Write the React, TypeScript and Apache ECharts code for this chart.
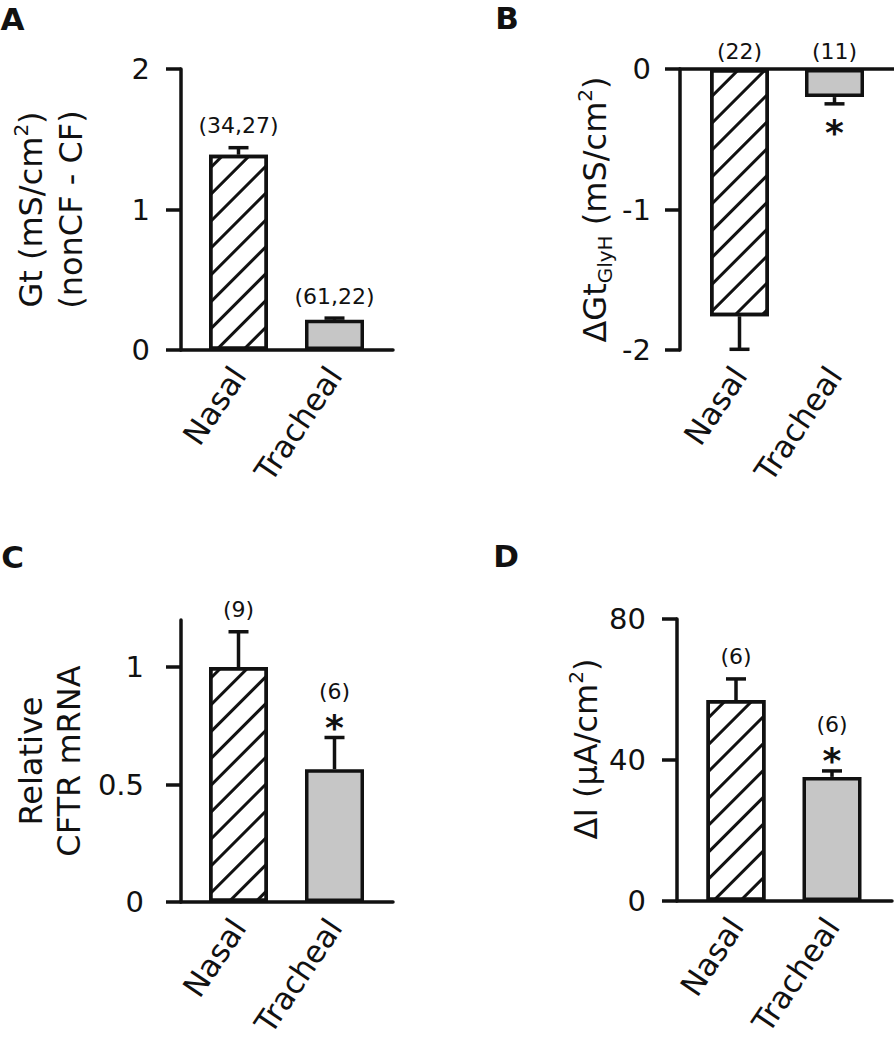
import React, { useEffect, useRef } from "react";
import * as echarts from "echarts";

// ---------- data ----------
const categories = ["Nasal", "Tracheal"];

// Panel A: Gt (nonCF - CF)
const gtMean = [1.39, 0.215];
const gtErr = [0.05, 0.012];
const gtN = ["(34,27)", "(61,22)"];
const gtSig = [false, false];
const gtTicks = [0, 1, 2];

// Panel B: ΔGt GlyH
const glyMean = [-1.76, -0.2];
const glyErr = [0.235, 0.048];
const glyN = ["(22)", "(11)"];
const glySig = [false, true];
const glyTicks = [-2, -1, 0];

// Panel C: relative CFTR mRNA
const mrnaMean = [1.0, 0.565];
const mrnaErr = [0.15, 0.135];
const mrnaN = ["(9)", "(6)"];
const mrnaSig = [false, true];
const mrnaTicks = [0, 0.5, 1];

// Panel D: ΔI
const diMean = [57, 35.2];
const diErr = [6, 1.7];
const diN = ["(6)", "(6)"];
const diSig = [false, true];
const diTicks = [0, 40, 80];

// ---------- styling ----------
const FONT = '"DejaVu Sans", sans-serif';
const INK = "#111111";
const GRAY = "#c6c6c6";
const LW = 3.5;

const richStyles = (lh: number) => ({
  t: { fontSize: 32, fontFamily: FONT, color: INK, lineHeight: lh },
  sup: { fontSize: 20, fontFamily: FONT, color: INK, lineHeight: 20, verticalAlign: "top" },
  sub: { fontSize: 20, fontFamily: FONT, color: INK, lineHeight: 20, verticalAlign: "bottom" },
});

type Panel = {
  letter: string;
  lx: number;
  ly: number;
  axisLeft: number;
  axisWidth: number;
  top: number;
  height: number;
  barLeft: number;
  barWidth: number;
  min: number;
  max: number;
  ticks: number[];
  mean: number[];
  err: number[];
  n: string[];
  sig: boolean[];
  name: string;
  nameGap: number;
  nameLH: number;
  namePad?: number[];
  labelMargin: number;
  xTop: boolean;
};

const panels: Panel[] = [
  {
    letter: "A", lx: 12.5, ly: 18.5,
    axisLeft: 181, axisWidth: 212, top: 69, height: 281,
    barLeft: 190.5, barWidth: 192,
    min: 0, max: 2, ticks: gtTicks,
    mean: gtMean, err: gtErr, n: gtN, sig: gtSig,
    name: "{t|Gt (mS/cm}{sup|2}{t|)}\n{t|(nonCF - CF)}", nameGap: 90, nameLH: 40,
    labelMargin: 31, xTop: false,
  },
  {
    letter: "B", lx: 507, ly: 18,
    axisLeft: 680, axisWidth: 214, top: 69, height: 281,
    barLeft: 692, barWidth: 190,
    min: -2, max: 0, ticks: glyTicks,
    mean: glyMean, err: glyErr, n: glyN, sig: glySig,
    name: "{t|ΔGt}{sub|GlyH}{t| (mS/cm}{sup|2}{t|)}", nameGap: 65, nameLH: 40,
    labelMargin: 29, xTop: true,
  },
  {
    letter: "C", lx: 12.5, ly: 556.5,
    axisLeft: 181, axisWidth: 212, top: 620, height: 282,
    barLeft: 190.5, barWidth: 192,
    min: 0, max: 1.2, ticks: mrnaTicks,
    mean: mrnaMean, err: mrnaErr, n: mrnaN, sig: mrnaSig,
    name: "{t|Relative}\n{t|CFTR mRNA}", nameGap: 93, nameLH: 38,
    labelMargin: 37, xTop: false,
  },
  {
    letter: "D", lx: 506, ly: 556,
    axisLeft: 677, axisWidth: 215, top: 619, height: 282,
    barLeft: 688, barWidth: 192,
    min: 0, max: 80, ticks: diTicks,
    mean: diMean, err: diErr, n: diN, sig: diSig,
    name: "{t|ΔI (μA/cm}{sup|2}{t|)}", nameGap: 71, nameLH: 40, namePad: [0, 0, 0, 22],
    labelMargin: 31, xTop: false,
  },
];

const hatchStyle = {
  color: "#ffffff",
  borderColor: INK,
  borderWidth: LW,
  decal: {
    symbol: "rect",
    symbolSize: 1,
    symbolKeepAspect: false,
    dashArrayX: [[20, 0]],
    dashArrayY: [3, 16],
    rotation: -Math.PI / 4,
    color: INK,
    backgroundColor: null,
  },
};
const grayStyle = { color: GRAY, borderColor: INK, borderWidth: LW };

function buildOption() {
  const grid: any[] = [];
  const xAxis: any[] = [];
  const yAxis: any[] = [];
  const series: any[] = [];
  const graphic: any[] = [];

  panels.forEach((p, k) => {
    const gLine = 2 * k;
    const gBar = 2 * k + 1;
    grid.push({ left: p.axisLeft, top: p.top, width: p.axisWidth, height: p.height, outerBoundsMode: "none", containLabel: false });
    grid.push({ left: p.barLeft, top: p.top, width: p.barWidth, height: p.height, outerBoundsMode: "none", containLabel: false });

    // axis-line grid
    xAxis.push({
      gridIndex: gLine, type: "value", min: 0, max: 1,
      position: p.xTop ? "top" : "bottom",
      axisLine: { show: true, onZero: false, lineStyle: { color: INK, width: LW } },
      axisTick: { show: false }, axisLabel: { show: false }, splitLine: { show: false },
    });
    yAxis.push({
      gridIndex: gLine, type: "value", min: p.min, max: p.max, position: "left",
      axisLine: { show: true, onZero: false, lineStyle: { color: INK, width: LW } },
      axisTick: { show: true, inside: false, length: 15, lineStyle: { color: INK, width: LW }, customValues: p.ticks },
      axisLabel: { show: true, customValues: p.ticks, margin: p.labelMargin, fontSize: 29, fontFamily: FONT, color: INK },
      splitLine: { show: false },
      name: p.name, nameLocation: "middle", nameRotate: 90, nameGap: p.nameGap, nameMoveOverlap: false,
      nameTextStyle: {
        fontSize: 32, fontFamily: FONT, color: INK, lineHeight: p.nameLH,
        padding: p.namePad || 0,
        rich: richStyles(p.nameLH),
      },
    });

    // bar grid
    xAxis.push({
      gridIndex: gBar, type: "category", data: categories, position: "bottom",
      axisLine: { show: false, onZero: false }, axisTick: { show: false },
      axisLabel: { show: true, interval: 0, rotate: 56, margin: 20, fontSize: 31, fontFamily: FONT, color: INK },
      splitLine: { show: false },
    });
    yAxis.push({ gridIndex: gBar, type: "value", min: p.min, max: p.max, show: false, splitLine: { show: false } });

    series.push({
      type: "bar", xAxisIndex: 2 * k + 1, yAxisIndex: 2 * k + 1,
      barWidth: 59, silent: true, z: 3,
      data: p.mean.map((v, i) => ({ value: v, itemStyle: i === 0 ? hatchStyle : grayStyle })),
    });

    const nArr = p.n;
    const sArr = p.sig;
    series.push({
      type: "custom", xAxisIndex: 2 * k + 1, yAxisIndex: 2 * k + 1, z: 4, silent: true, clip: false,
      data: p.mean.map((m, i) => [i, m, p.err[i]]),
      renderItem: (params: any, api: any) => {
        const i = api.value(0);
        const m = api.value(1);
        const e = api.value(2);
        const dir = m < 0 ? -1 : 1;
        const base = api.coord([i, m]);
        const tip = api.coord([i, m + dir * e]);
        const zero = api.coord([i, 0]);
        const x = base[0];
        const ls = { stroke: INK, lineWidth: LW };
        const txt = (text: string, y: number, size: number, bold = false) => ({
          type: "text",
          style: { text, x, y, align: "center", verticalAlign: "middle", fontSize: size, fontFamily: FONT, fontWeight: bold ? "bold" : "normal", fill: INK },
        });
        const children: any[] = [
          { type: "line", shape: { x1: x, y1: base[1], x2: x, y2: tip[1] }, style: ls },
          { type: "line", shape: { x1: x - 10, y1: tip[1], x2: x + 10, y2: tip[1] }, style: ls },
        ];
        const label = nArr[params.dataIndex];
        const sig = sArr[params.dataIndex];
        const starOff = 8;
        if (dir > 0) {
          if (sig) {
            children.push(txt("*", tip[1] - 18 + starOff, 36, true));
            children.push(txt(label, tip[1] - 46, 22));
          } else {
            children.push(txt(label, tip[1] - 22, 22));
          }
        } else {
          children.push(txt(label, zero[1] - 18, 22));
          if (sig) children.push(txt("*", tip[1] + 21 + starOff, 36, true));
        }
        return { type: "group", children };
      },
    });

    graphic.push({
      type: "text", x: p.lx, y: p.ly,
      style: { text: p.letter, align: "center", verticalAlign: "middle", fontSize: 31, fontWeight: "bold", fontFamily: FONT, fill: INK },
    });
  });

  return {
    animation: false,
    backgroundColor: "#ffffff",
    grid, xAxis, yAxis, series, graphic,
  };
}

export default function App() {
  const ref = useRef<HTMLDivElement>(null);
  useEffect(() => {
    document.body.style.margin = "0";
    if (!ref.current) return;
    const chart = echarts.init(ref.current, null, { renderer: "svg" });
    chart.setOption(buildOption() as any);
    return () => chart.dispose();
  }, []);
  return <div ref={ref} style={{ width: 894, height: 1050 }} />;
}
